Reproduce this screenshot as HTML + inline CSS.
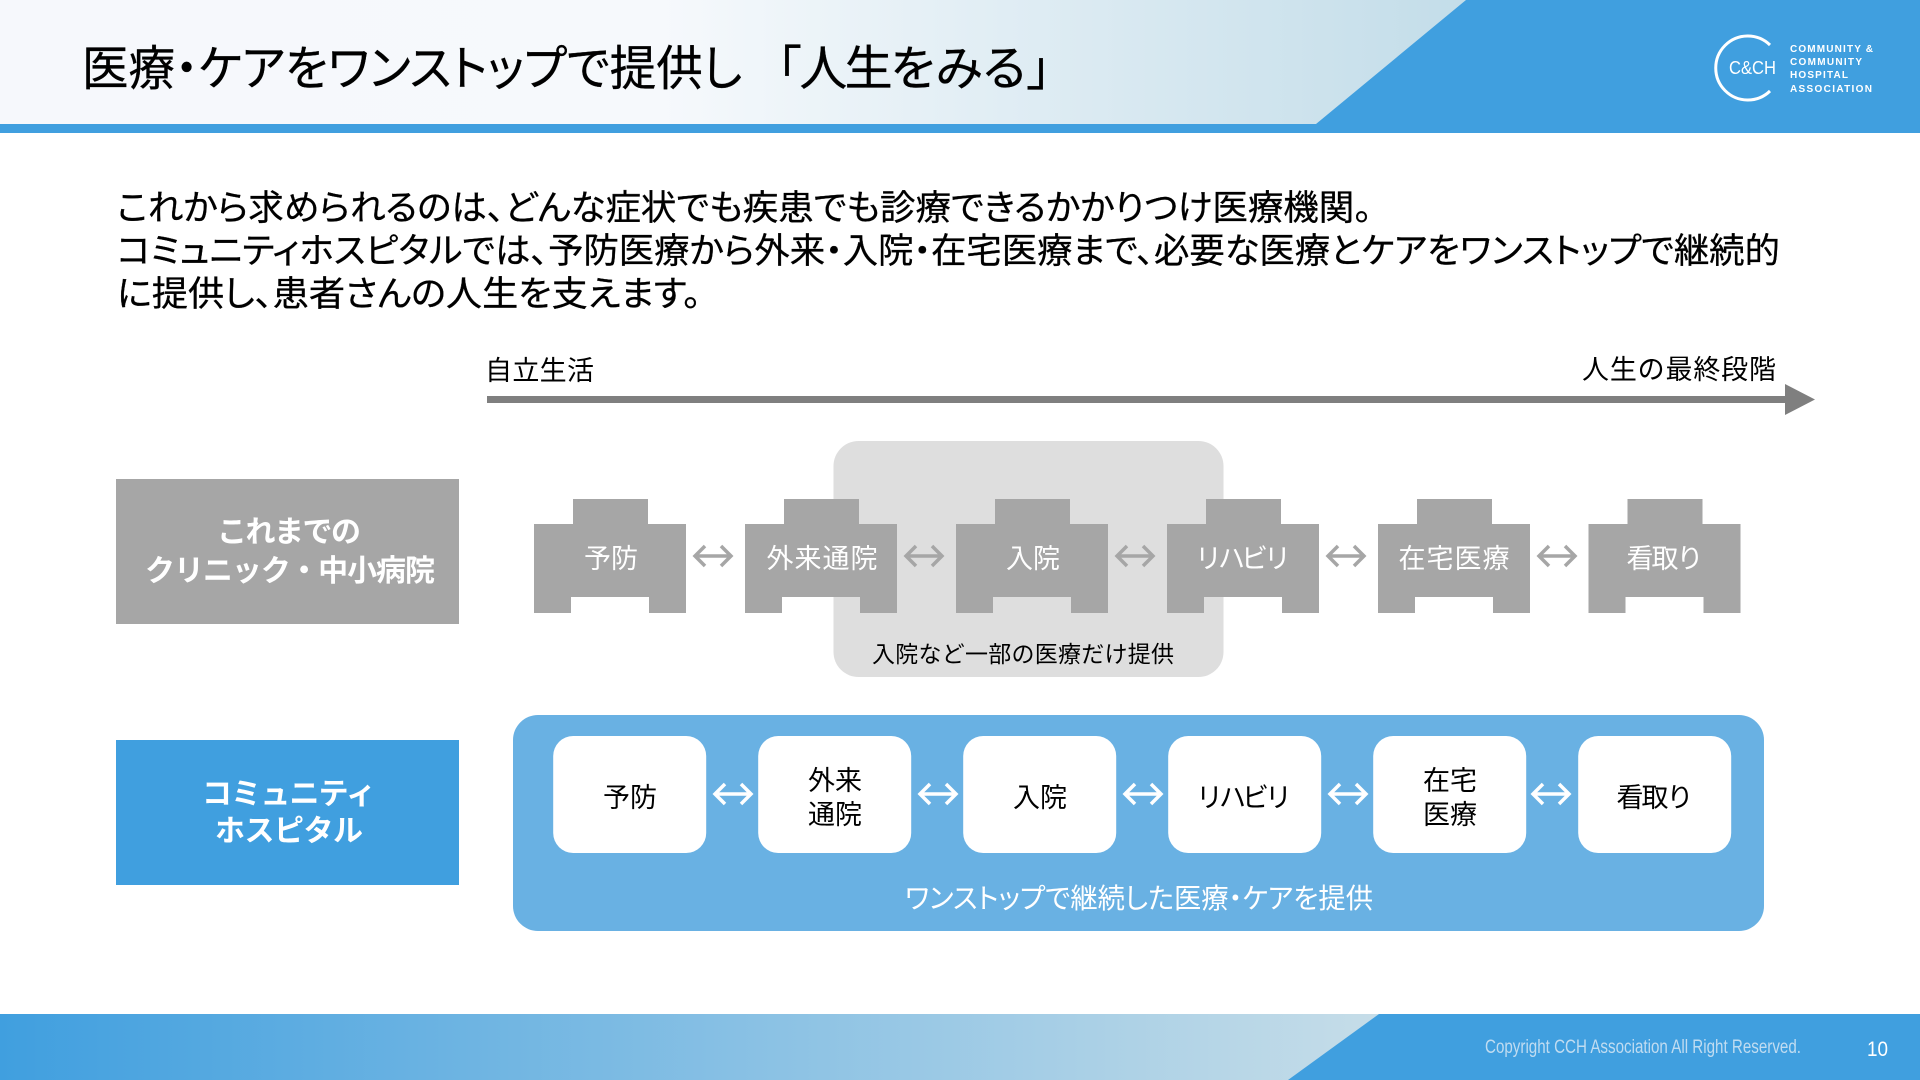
<!DOCTYPE html>
<html lang="ja">
<head>
<meta charset="utf-8">
<style>
html,body{margin:0;padding:0;background:#fff;width:1920px;height:1080px;overflow:hidden}
svg{display:block}
text{font-family:"Liberation Sans","Noto Sans CJK JP",sans-serif;font-feature-settings:"palt"}
.l{font-size:27px;fill:#fff;text-anchor:middle;font-feature-settings:normal}
.d{font-size:27px;fill:#000;text-anchor:middle;font-feature-settings:normal}
.b{font-size:35px;fill:#000;stroke:#000;stroke-width:.3px}
.lg{font-size:10px;font-weight:bold;fill:#fff}
.h{font-size:30px;font-weight:bold;fill:#fff;text-anchor:middle;font-feature-settings:normal}
</style>
</head>
<body>
<svg width="1920" height="1080" viewBox="0 0 1920 1080" xmlns="http://www.w3.org/2000/svg">
<defs>
<linearGradient id="hg" x1="0" y1="0" x2="1466" y2="0" gradientUnits="userSpaceOnUse">
<stop offset="0" stop-color="#f6f8fc"/><stop offset="0.45" stop-color="#f6f9fc"/><stop offset="1" stop-color="#c3dde9"/>
</linearGradient>
<linearGradient id="fg" x1="0" y1="0" x2="1379" y2="0" gradientUnits="userSpaceOnUse">
<stop offset="0" stop-color="#409fdf"/><stop offset="1" stop-color="#c6dde8"/>
</linearGradient>
<path id="sh" d="M0 25H39V0H114V25H152V114H115V98H37V114H0Z"/>
<path id="ar" d="M2 20H38M12 10L2 20L12 30M28 10L38 20L28 30" fill="none" stroke-width="3.5"/>
</defs>

<!-- header -->
<rect x="0" y="0" width="1920" height="124" fill="url(#hg)"/>
<polygon points="1466,0 1920,0 1920,133 0,133 0,124 1316,124" fill="#409fdf"/>
<text x="82" y="85" font-size="48" textLength="660" lengthAdjust="spacingAndGlyphs" fill="#000" stroke="#000" stroke-width=".3">医療・ケアをワンストップで提供し</text>
<text x="754" y="85" font-size="48" textLength="320" lengthAdjust="spacing" fill="#000" stroke="#000" stroke-width=".3" style="font-feature-settings:normal">「人生をみる」</text>

<!-- logo -->
<path d="M1770 45A32 32 0 1 0 1770 91" fill="none" stroke="#fff" stroke-width="3"/>
<text x="1729" y="74" font-size="18" fill="#fff" textLength="47" lengthAdjust="spacingAndGlyphs">C&amp;CH</text>
<text class="lg" x="1790" y="52" textLength="83">COMMUNITY &amp;</text>
<text class="lg" x="1790" y="65" textLength="72">COMMUNITY</text>
<text class="lg" x="1790" y="78" textLength="58">HOSPITAL</text>
<text class="lg" x="1790" y="92" textLength="82">ASSOCIATION</text>

<!-- body -->
<text class="b" x="117" y="220" textLength="1255" lengthAdjust="spacingAndGlyphs">これから求められるのは、どんな症状でも疾患でも診療できるかかりつけ医療機関。</text>
<text class="b" x="117" y="263" textLength="1663" lengthAdjust="spacingAndGlyphs">コミュニティホスピタルでは、予防医療から外来・入院・在宅医療まで、必要な医療とケアをワンストップで継続的</text>
<text class="b" x="117" y="306" textLength="584" lengthAdjust="spacingAndGlyphs">に提供し、患者さんの人生を支えます。</text>

<!-- timeline -->
<text x="485" y="380" font-size="27" textLength="109" fill="#000" style="font-feature-settings:normal">自立生活</text>
<text x="1582" y="379" font-size="27" textLength="194" fill="#000" style="font-feature-settings:normal">人生の最終段階</text>
<rect x="487" y="396" width="1299" height="7" fill="#7f7f7f"/>
<polygon points="1785,384 1815,399.5 1785,415" fill="#7f7f7f"/>

<!-- left labels -->
<rect x="116" y="479" width="343" height="145" fill="#a6a6a6"/>
<text class="h" x="289" y="542" textLength="144">これまでの</text>
<text class="h" x="290" y="581" textLength="290">クリニック・中小病院</text>
<rect x="116" y="740" width="343" height="145" fill="#409fdf"/>
<text class="h" x="289" y="804" textLength="174">コミュニティ</text>
<text class="h" x="289" y="841" textLength="148">ホスピタル</text>

<!-- grey row -->
<rect x="833.5" y="441" width="390" height="236" rx="25" fill="#dedede"/>
<g fill="#a6a6a6">
<use href="#sh" x="534" y="499"/><use href="#sh" x="745" y="499"/><use href="#sh" x="956" y="499"/>
<use href="#sh" x="1167" y="499"/><use href="#sh" x="1378" y="499"/><use href="#sh" x="1588.5" y="499"/>
</g>
<g stroke="#a6a6a6">
<use href="#ar" x="693" y="536"/><use href="#ar" x="904" y="536"/><use href="#ar" x="1115" y="536"/>
<use href="#ar" x="1326" y="536"/><use href="#ar" x="1537" y="536"/>
</g>
<text class="l" x="611" y="568">予防</text>
<text class="l" x="822" y="568" textLength="111">外来通院</text>
<text class="l" x="1033" y="568">入院</text>
<text class="l" x="1243" y="568" textLength="96">リハビリ</text>
<text class="l" x="1454" y="568" textLength="111">在宅医療</text>
<text class="l" x="1665" y="568" textLength="77">看取り</text>
<text x="872" y="662" font-size="23" fill="#000" textLength="302" style="font-feature-settings:normal">入院など一部の医療だけ提供</text>

<!-- blue panel -->
<rect x="513" y="715" width="1251" height="216" rx="25" fill="#69b1e3"/>
<g fill="#fff">
<rect x="553.2" y="736" width="153" height="117" rx="20"/>
<rect x="758.2" y="736" width="153" height="117" rx="20"/>
<rect x="963.2" y="736" width="153" height="117" rx="20"/>
<rect x="1168.2" y="736" width="153" height="117" rx="20"/>
<rect x="1373.2" y="736" width="153" height="117" rx="20"/>
<rect x="1578.2" y="736" width="153" height="117" rx="20"/>
</g>
<g stroke="#fff">
<use href="#ar" x="713" y="774"/><use href="#ar" x="918" y="774"/><use href="#ar" x="1123" y="774"/>
<use href="#ar" x="1328" y="774"/><use href="#ar" x="1531" y="774"/>
</g>
<text class="d" x="630" y="807">予防</text>
<text class="d" x="835" y="790">外来</text>
<text class="d" x="835" y="824">通院</text>
<text class="d" x="1040" y="807">入院</text>
<text class="d" x="1244" y="807" textLength="96">リハビリ</text>
<text class="d" x="1450" y="790">在宅</text>
<text class="d" x="1450" y="824">医療</text>
<text class="d" x="1655" y="807" textLength="77">看取り</text>
<text x="905" y="908" font-size="28" fill="#fff" textLength="468" lengthAdjust="spacingAndGlyphs">ワンストップで継続した医療・ケアを提供</text>

<!-- footer -->
<rect x="0" y="1014" width="1920" height="66" fill="url(#fg)"/>
<polygon points="1379,1014 1920,1014 1920,1080 1288,1080" fill="#409fdf"/>
<text x="1485" y="1053" font-size="19" fill="#c0dcf1" textLength="316" lengthAdjust="spacingAndGlyphs">Copyright CCH Association All Right Reserved.</text>
<text x="1867" y="1056" font-size="21" fill="#fff" textLength="21" lengthAdjust="spacingAndGlyphs">10</text>
</svg>
</body>
</html>
